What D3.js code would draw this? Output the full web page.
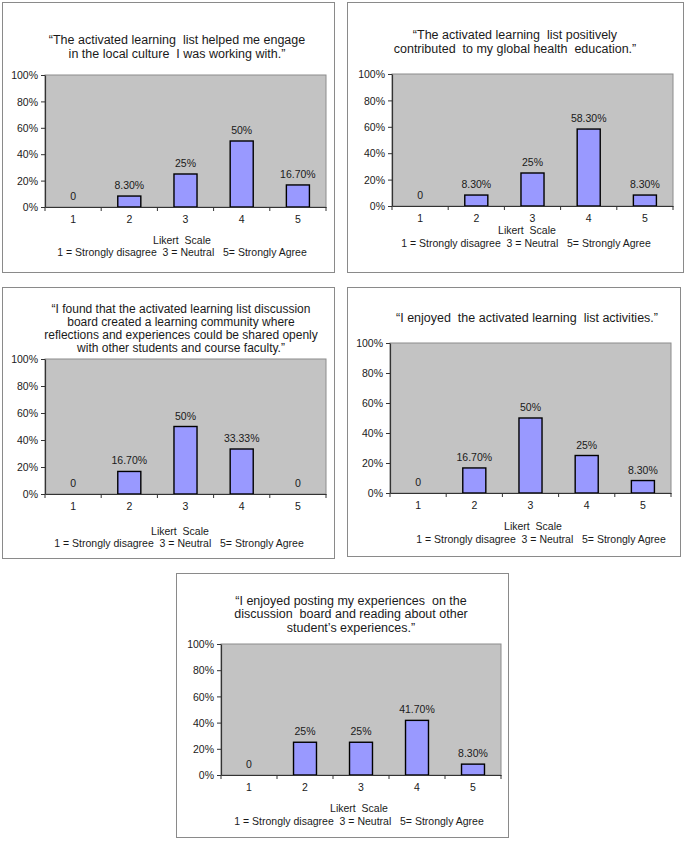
<!DOCTYPE html>
<html>
<head>
<meta charset="utf-8">
<script src="https://cdn.jsdelivr.net/npm/d3@7"></script>
<style>
  body { margin: 0; background: #fff; }
  svg text { font-family: "Liberation Sans", Arial, sans-serif; fill: #1a1a1a; white-space: pre; }
</style>
</head>
<body>
<svg id="chart" width="685" height="841"></svg>
<script>
// Likert categories shared by every question
const categories = ["1", "2", "3", "4", "5"];
const yTicks = [0, 0.2, 0.4, 0.6, 0.8, 1];

const engageTitle = ["\u201cThe activated learning  list helped me engage", "in the local culture  I was working with.\u201d"];
const engageValues = [0, 0.083, 0.25, 0.5, 0.167];
const engageLabels = ["0", "8.30%", "25%", "50%", "16.70%"];

const educationTitle = ["\u201cThe activated learning  list positively", "contributed  to my global health  education.\u201d"];
const educationValues = [0, 0.083, 0.25, 0.583, 0.083];
const educationLabels = ["0", "8.30%", "25%", "58.30%", "8.30%"];

const communityTitle = [
  "\u201cI found that the activated learning list discussion",
  "board created a learning community where",
  "reflections and experiences could be shared openly",
  "with other students and course faculty.\u201d"
];
const communityValues = [0, 0.167, 0.5, 0.3333, 0];
const communityLabels = ["0", "16.70%", "50%", "33.33%", "0"];

const activitiesTitle = ["\u201cI enjoyed  the activated learning  list activities.\u201d"];
const activitiesValues = [0, 0.167, 0.5, 0.25, 0.083];
const activitiesLabels = ["0", "16.70%", "50%", "25%", "8.30%"];

const postingTitle = [
  "\u201cI enjoyed posting my experiences  on the",
  "discussion  board and reading about other",
  "student\u2019s experiences.\u201d"
];
const postingValues = [0, 0.25, 0.25, 0.417, 0.083];
const postingLabels = ["0", "25%", "25%", "41.70%", "8.30%"];

const noteLines = ["Likert  Scale", "1 = Strongly disagree  3 = Neutral   5= Strongly Agree"];

// where each panel sits on the page
const panels = [
  { title: engageTitle, values: engageValues, labels: engageLabels,
    box: [2, 2, 334, 272], plot: [45, 75, 326, 207], titleX: 177, titleY: [39, 53], titleSize: 12.5,
    noteX: [182, 182], noteY: [240, 252.5] },
  { title: educationTitle, values: educationValues, labels: educationLabels,
    box: [347, 2, 683, 272], plot: [392, 74, 673, 206], titleX: 515, titleY: [34, 48], titleSize: 12.5,
    noteX: [527, 526], noteY: [230, 243] },
  { title: communityTitle, values: communityValues, labels: communityLabels,
    box: [2, 287, 334, 558], plot: [45, 359, 326, 494], titleX: 181, titleY: [309, 321.5, 334.5, 347.5], titleSize: 12,
    noteX: [180, 179], noteY: [531, 543] },
  { title: activitiesTitle, values: activitiesValues, labels: activitiesLabels,
    box: [347, 287, 680, 556], plot: [390, 343, 671, 493], titleX: 527, titleY: [317], titleSize: 12.5,
    noteX: [533, 541], noteY: [526, 539] },
  { title: postingTitle, values: postingValues, labels: postingLabels,
    box: [176, 573, 508, 837], plot: [221, 644, 501, 775], titleX: 351, titleY: [600, 613, 627], titleSize: 12.5,
    noteX: [359, 359], noteY: [808, 821] }
];

const svg = d3.select("#chart");

const drawPanel = (p) => {
  const [bx0, by0, bx1, by1] = p.box;
  const [px0, py0, px1, py1] = p.plot;

  svg.append("rect")
    .attr("x", bx0 + 0.5).attr("y", by0 + 0.5)
    .attr("width", bx1 - bx0).attr("height", by1 - by0)
    .attr("fill", "#fff").attr("stroke", "#8a8a8a").attr("stroke-width", 1);

  p.title.forEach((line, i) => {
    svg.append("text")
      .attr("x", p.titleX).attr("y", p.titleY[i]).attr("dy", "0.36em")
      .attr("text-anchor", "middle")
      .style("font-size", p.titleSize + "px")
      .text(line);
  });

  const x = d3.scaleBand()
    .domain(categories)
    .range([px0, px1])
    .paddingInner(0.59)
    .paddingOuter(0.295);
  const y = d3.scaleLinear().domain([0, 1]).range([py1, py0]);

  // plot area
  svg.append("rect")
    .attr("x", px0).attr("y", py0)
    .attr("width", px1 - px0).attr("height", py1 - py0)
    .attr("fill", "#c3c3c3").attr("stroke", "#8c8c8c").attr("stroke-width", 1);

  const g = svg.append("g");

  g.selectAll(".bar")
    .data(p.values)
    .enter()
    .append("rect")
    .attr("class", "bar")
    .attr("x", (d, i) => x(categories[i]))
    .attr("y", d => y(d))
    .attr("width", x.bandwidth())
    .attr("height", d => y(0) - y(d))
    .attr("fill", "#9999ff")
    .attr("stroke", "#000")
    .attr("stroke-width", d => d > 0 ? 1.4 : 0);

  g.selectAll(".val")
    .data(p.values)
    .enter()
    .append("text")
    .attr("class", "val")
    .attr("x", (d, i) => x(categories[i]) + x.bandwidth() / 2)
    .attr("y", d => y(d) - 7)
    .attr("text-anchor", "middle")
    .style("font-size", "10.5px")
    .text((d, i) => p.labels[i]);

  // y axis
  const yAxis = svg.append("g")
    .attr("transform", `translate(${px0},0)`)
    .call(d3.axisLeft(y).tickValues(yTicks).tickFormat(d3.format(".0%")).tickSize(4).tickSizeOuter(0).tickPadding(3));
  yAxis.select(".domain").attr("stroke", "#333").attr("stroke-width", 1.2);
  yAxis.selectAll(".tick line").attr("stroke", "#333");
  yAxis.selectAll("text").style("font-size", "10.5px").attr("fill", "#1a1a1a").attr("dy", "0.36em");

  // x axis: labels centred, ticks on category borders
  const xAxis = svg.append("g")
    .attr("transform", `translate(0,${py1})`)
    .call(d3.axisBottom(x).tickSize(0).tickSizeOuter(0).tickPadding(9));
  xAxis.select(".domain").attr("stroke", "#333").attr("stroke-width", 1.2);
  xAxis.selectAll("text").style("font-size", "10.5px").attr("fill", "#1a1a1a");

  const step = x.step();
  const borders = d3.range(categories.length + 1).map(i => px0 + i * step);
  xAxis.selectAll(".border")
    .data(borders)
    .enter()
    .append("line")
    .attr("class", "border")
    .attr("x1", d => d).attr("x2", d => d)
    .attr("y1", 0).attr("y2", 4)
    .attr("stroke", "#333");

  noteLines.forEach((line, i) => {
    svg.append("text")
      .attr("x", p.noteX[i]).attr("y", p.noteY[i]).attr("dy", "0.36em")
      .attr("text-anchor", "middle")
      .style("font-size", "10.5px")
      .text(line);
  });
};

panels.forEach(drawPanel);
</script>
</body>
</html>
